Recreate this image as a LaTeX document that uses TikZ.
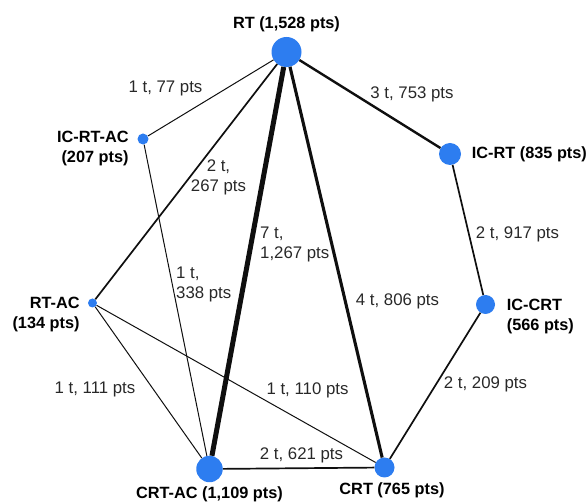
\documentclass[tikz,border=0pt]{standalone}
\usepackage{fontspec}
\setmainfont{Liberation Sans}
\usetikzlibrary{positioning}
\definecolor{ptblue}{RGB}{45,125,240}
\definecolor{lblgray}{RGB}{40,40,40}
\definecolor{edgeblk}{RGB}{15,15,15}

\begin{document}
\begin{tikzpicture}[x=1pt,y=-1pt,
pt/.style={circle,fill=ptblue,inner sep=0pt},
nlbl/.style={font=\fontsize{16.3}{20}\selectfont\bfseries,text=black,inner sep=0pt},
elbl/.style={font=\fontsize{16.8}{20}\selectfont,text=lblgray,inner sep=0pt},
tr/.style={draw=edgeblk,line width=#1}]
\useasboundingbox (0,0) rectangle (587,502);
\node[pt,minimum size=30pt](RT)at(286.5,52){};
\node[pt,minimum size=11pt](ICRTAC)at(143,139){};
\node[pt,minimum size=22pt](ICRT)at(450,154){};
\node[pt,minimum size=9pt](RTAC)at(92.5,303){};
\node[pt,minimum size=19pt](ICCRT)at(485.5,304.5){};
\node[pt,minimum size=26.5pt](CRTAC)at(209.5,469){};
\node[pt,minimum size=20pt](CRT)at(384.5,467.5){};
\node[nlbl,above=5pt of RT](lRT){RT (1,528 pts)};
\node[nlbl,align=right,left=8.5pt of ICRTAC,yshift=-9.5pt](lICRTAC){IC-RT-AC\\(207 pts)};
\node[nlbl,right=10.5pt of ICRT](lICRT){IC-RT (835 pts)};
\node[nlbl,align=right,left=8pt of RTAC,yshift=-11.5pt](lRTAC){RT-AC\\(134 pts)};
\node[nlbl,align=left,right=11.5pt of ICCRT,yshift=-12pt](lICCRT){IC-CRT\\(566 pts)};
\node[nlbl,below=4.5pt of CRTAC](lCRTAC){CRT-AC (1,109 pts)};
\node[nlbl,below=5pt of CRT,xshift=7.5pt](lCRT){CRT (765 pts)};
\draw[tr=1pt](RT)--(ICRTAC);
\draw[tr=2.4pt](RT)--(ICRT);
\draw[tr=1.7pt](RT)--(RTAC);
\draw[tr=5pt](RT)--(CRTAC);
\draw[tr=3.1pt](RT)--(CRT);
\draw[tr=1.7pt](ICRT)--(ICCRT);
\draw[tr=1.7pt](ICCRT)--(CRT);
\draw[tr=1.7pt](CRTAC)--(CRT);
\draw[tr=1pt](RTAC)--(CRT);
\draw[tr=1pt](RTAC)--(CRTAC);
\draw[tr=1pt](ICRTAC)--(CRTAC);
\node[elbl](e77)at(165.5,88){1 t, 77 pts};
\node[elbl](e753)at(412,94){3 t, 753 pts};
\node[elbl,align=center](e267)at(218.5,177.5){2 t,\\267 pts};
\node[elbl,align=left,anchor=west](e1267)at(260,244){7 t,\\1,267 pts};
\node[elbl,align=left,anchor=west](e338)at(176,284.5){1 t,\\338 pts};
\node[elbl](e806)at(397.5,301){4 t, 806 pts};
\node[elbl](e917)at(517.5,234.5){2 t, 917 pts};
\node[elbl](e209)at(485.5,384.5){2 t, 209 pts};
\node[elbl](e111)at(95,389.5){1 t, 111 pts};
\node[elbl](e110)at(307.5,390.5){1 t, 110 pts};
\node[elbl](e621)at(301.5,455.5){2 t, 621 pts};
\end{tikzpicture}
\end{document}
